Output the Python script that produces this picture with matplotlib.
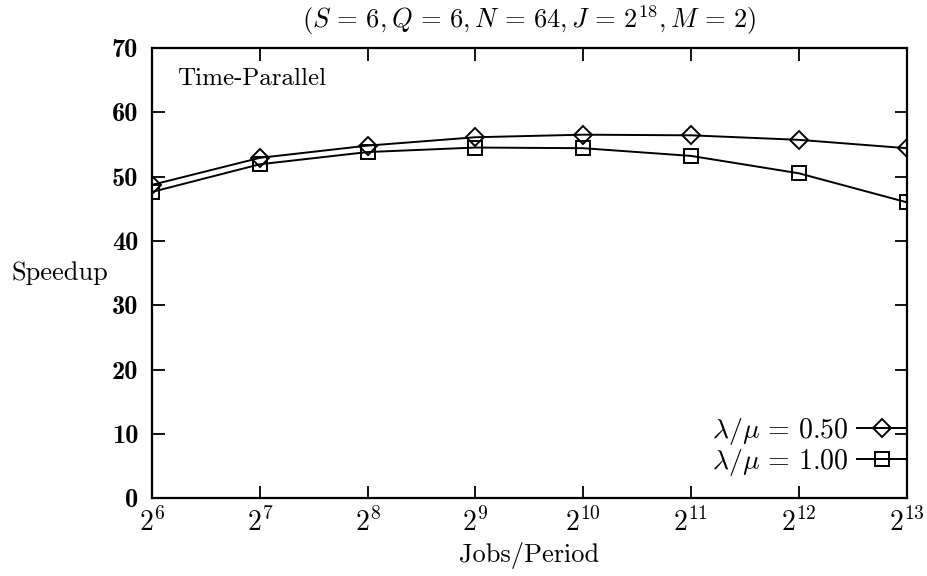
import matplotlib
matplotlib.use("Agg")
import matplotlib.pyplot as plt

plt.rcParams['mathtext.fontset'] = 'cm'
plt.rcParams['font.family'] = 'serif'
plt.rcParams['font.serif'] = ['cmr10', 'DejaVu Serif']
plt.rcParams['axes.unicode_minus'] = False

jobs = [2**6, 2**7, 2**8, 2**9, 2**10, 2**11, 2**12, 2**13]
xlabels = [r'$\mathbf{2^{6}}$', r'$\mathbf{2^{7}}$', r'$\mathbf{2^{8}}$', r'$\mathbf{2^{9}}$',
           r'$\mathbf{2^{10}}$', r'$\mathbf{2^{11}}$', r'$\mathbf{2^{12}}$', r'$\mathbf{2^{13}}$']
speedup_050 = [48.7, 52.9, 54.8, 56.1, 56.5, 56.4, 55.7, 54.4]
speedup_100 = [47.6, 51.9, 53.8, 54.5, 54.4, 53.2, 50.5, 46.0]
yticks = [0, 10, 20, 30, 40, 50, 60, 70]

fig = plt.figure(figsize=(9.27, 5.76), dpi=100)
ax = fig.add_axes([0.164, 0.135, 0.814, 0.782])

ax.plot(jobs, speedup_050, color='black', lw=1.4, marker='D', ms=9, mfc='none',
        mec='black', mew=1.4, label=r'$\lambda/\mu\,=\,0.50$')
ax.plot(jobs, speedup_100, color='black', lw=1.4, marker='s', ms=10, mfc='none',
        mec='black', mew=1.4, label=r'$\lambda/\mu\,=\,1.00$')

ax.set_xscale('log', base=2)
ax.set_xlim(2**6, 2**13)
ax.set_ylim(0, 70)
ax.set_xticks(jobs)
ax.set_xticklabels(xlabels, fontsize=20)
ax.minorticks_off()
ax.set_yticks(yticks)
ax.set_yticklabels([str(v) for v in yticks], fontsize=19, family='cmb10')
ax.tick_params(direction='in', length=9, width=1.3, top=True, right=True)
ax.tick_params(axis='x', pad=7)
ax.tick_params(axis='y', pad=10)

for s in ax.spines.values():
    s.set_linewidth(1.6)

ax.set_xlabel('Jobs/Period', fontsize=19, labelpad=4)
ax.set_ylabel('Speedup', fontsize=19, rotation=0, ha='right', va='center')
ax.yaxis.set_label_coords(-0.058, 0.5)
ax.set_title(r'$(S\,=\,6, Q\,=\,6, N\,=\,64, J\,=\,2^{18}, M\,=\,2)$', fontsize=19, pad=14)

ax.text(0.033, 0.93, 'Time-Parallel', transform=ax.transAxes, fontsize=18, va='center')

ax.legend(loc='lower right', bbox_to_anchor=(1.0, 0.045), frameon=False, markerfirst=False,
          fontsize=20, handlelength=1.8, handletextpad=0.3, labelspacing=0.0,
          borderaxespad=0, borderpad=0)

fig.savefig('out.png', dpi=100)
